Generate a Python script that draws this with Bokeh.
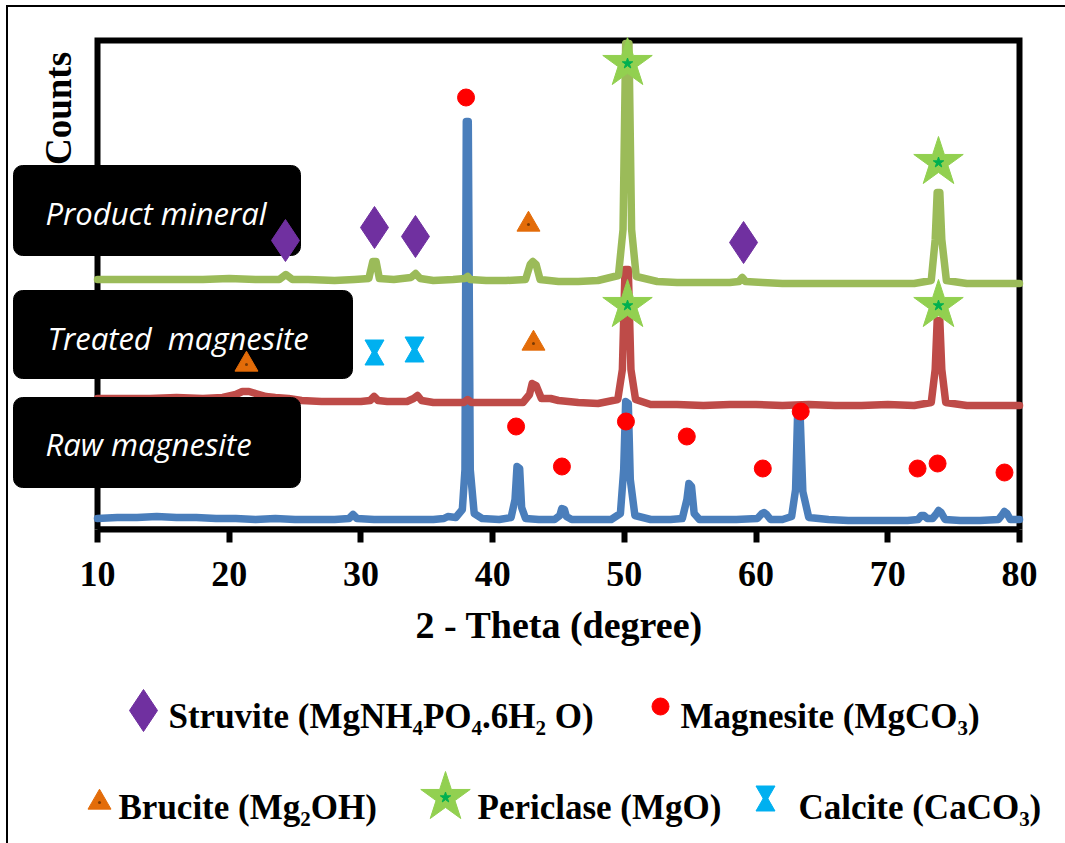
import math
from bokeh.plotting import figure
from bokeh.layouts import column
from bokeh.models import Range1d, Label, BoxAnnotation, ColumnDataSource, FixedTicker, Title
from bokeh.transform import dodge
from bokeh.embed import file_html
from bokeh.resources import INLINE

# ---------------- XRD patterns (2-theta in degrees, stacked counts in a.u.) ----------------
raw_theta = [10.0, 11.5, 13.0, 14.5, 16.0, 17.5, 19.0, 20.5, 22.0, 23.5, 25.0, 26.5, 28.0, 29.1,
             29.4, 29.7, 31.0, 32.5, 34.0, 35.5, 36.3, 36.6, 37.2, 37.7, 37.9, 38.0, 38.15, 38.3,
             38.6, 39.2, 40.5, 41.4, 41.7, 41.85, 42.05, 42.2, 42.5, 43.5, 44.7, 45.1, 45.25, 45.45,
             45.6, 46.0, 47.5, 49.0, 49.7, 49.95, 50.1, 50.3, 50.45, 50.8, 52.0, 53.5, 54.4, 54.75,
             54.9, 55.1, 55.3, 55.7, 57.0, 58.5, 60.1, 60.45, 60.6, 60.8, 61.1, 62.0, 62.7, 63.0,
             63.15, 63.35, 63.55, 64.0, 65.5, 67.0, 68.5, 70.0, 71.5, 72.3, 72.55, 72.75, 73.0,
             73.4, 73.65, 73.85, 74.05, 74.35, 75.5, 77.0, 78.4, 78.7, 78.85, 79.05, 79.3, 80.0]
raw_counts = [11, 12, 12, 13, 12, 12, 11, 11, 10, 11, 10, 10, 10, 11,
              15, 11, 10, 10, 10, 10, 11, 13, 12, 20, 60, 408, 408, 60,
              16, 11, 10, 12, 30, 63, 61, 22, 11, 10, 10, 14, 21, 20,
              13, 10, 10, 10, 16, 60, 128, 126, 50, 14, 10, 10, 11, 30,
              46, 43, 16, 10, 10, 10, 11, 16, 17, 15, 10, 10, 13, 40,
              114, 112, 38, 12, 10, 9, 9, 9, 9, 10, 14, 14, 11,
              11, 15, 19, 17, 10, 9, 9, 10, 15, 18, 16, 10, 10]

treated_theta = [10.0, 12.0, 14.0, 16.0, 18.0, 19.5, 20.5, 21.0, 21.5, 22.0, 22.8, 23.5, 24.5,
                 25.5, 27.0, 28.5, 30.0, 30.7, 31.0, 31.3, 32.0, 33.5, 34.0, 34.3, 34.6, 35.5,
                 36.5, 37.8, 38.1, 38.4, 39.5, 41.0, 42.3, 42.8, 43.0, 43.3, 43.7, 44.4, 45.0,
                 46.5, 48.0, 49.5, 49.85, 50.05, 50.3, 50.5, 50.85, 52.0, 54.0, 56.0, 58.0, 60.0,
                 62.0, 64.0, 66.0, 68.0, 70.0, 72.0, 73.3, 73.6, 73.75, 73.95, 74.1, 74.4, 76.0,
                 78.0, 80.0]
treated_counts = [131, 131, 131, 132, 131, 132, 135, 138, 138, 136, 133, 132, 131,
                  129, 128, 128, 128, 129, 133, 129, 128, 128, 131, 134, 129, 127,
                  127, 127, 130, 127, 127, 127, 127, 135, 146, 144, 131, 131, 129,
                  127, 126, 130, 160, 260, 260, 160, 130, 125, 125, 124, 125, 125,
                  124, 125, 124, 124, 125, 124, 127, 160, 209, 209, 160, 127, 124,
                  124, 124]

product_theta = [10.0, 12.0, 14.0, 16.0, 18.0, 20.0, 22.0, 23.8, 24.3, 24.8, 26.0, 28.0, 29.5,
                 30.6, 30.9, 31.15, 31.4, 32.5, 33.8, 34.15, 34.5, 35.5, 37.0, 37.9, 38.1, 38.3,
                 39.5, 41.0, 42.5, 42.85, 43.05, 43.3, 43.6, 45.0, 46.5, 48.0, 49.55, 49.9, 50.1,
                 50.35, 50.55, 50.9, 52.5, 54.0, 56.0, 58.0, 58.7, 58.95, 59.2, 60.5, 62.0, 64.0,
                 66.0, 68.0, 70.0, 72.0, 73.3, 73.6, 73.75, 73.95, 74.1, 74.45, 76.0, 78.0, 80.0]
product_counts = [250, 250, 250, 250, 250, 251, 250, 250, 255, 250, 250, 249, 250,
                  251, 268, 268, 251, 250, 252, 256, 251, 249, 250, 251, 253, 250,
                  249, 249, 250, 265, 268, 265, 250, 248, 248, 249, 254, 300, 486,
                  486, 300, 253, 248, 247, 247, 247, 248, 252, 248, 247, 246, 246,
                  246, 246, 246, 246, 249, 290, 337, 337, 290, 249, 246, 246, 246]

x_ticks = [10, 20, 30, 40, 50, 60, 70, 80]
counts_max = 489

# ---------------- phase identification marks ----------------
struvite_theta = [24.27, 31.03, 34.14, 59.05]
struvite_counts = [289, 302, 293, 287]
magnesite_theta = [37.98, 41.78, 45.26, 50.12, 54.74, 60.51, 63.39, 72.26, 73.78, 78.86]
magnesite_counts = [432, 103, 63, 108, 93, 61, 118, 61, 66, 57]
brucite_theta = [21.31, 43.10, 42.72]
brucite_counts = [165, 186, 305]
periclase_theta = [50.24, 73.85, 50.24, 73.85]
periclase_counts = [466, 367, 224, 224]
calcite_theta = [31.03, 34.07]
calcite_counts = [177, 180]

sample_names = ["Product mineral", "Treated\u00a0 magnesite", "Raw magnesite"]
key_texts = ["Struvite (MgNH\u2084PO\u2084.6H\u2082 O)", "Magnesite (MgCO\u2083)",
             "Brucite (Mg\u2082OH)", "Periclase (MgO)", "Calcite (CaCO\u2083)"]

SERIF = "Liberation Serif"
SANS = "Open Sans"

C_RAW, C_TREATED, C_PRODUCT = "#4a7ebb", "#be4b48", "#9bbb59"
C_STRUVITE, C_MAGNESITE, C_BRUCITE = "#7030a0", "#ff0000", "#e36c09"
C_PERICLASE, C_PERICLASE_IN, C_CALCITE = "#92d050", "#00b050", "#00b0f0"

# ---------------- page geometry (pixels) ----------------
OX, OY = 8, 7                 # content origin inside the framed page
PAGE_W, PAGE_H = 1065, 843
AX_L, AX_R, AX_T, AX_B = 97, 1019, 40, 529   # axes box on the page
KEY_TOP = 682                 # page row where the key panel starts
W = PAGE_W - OX
k = (AX_R - AX_L) / (x_ticks[-1] - x_ticks[0])   # px per degree

# ---------------- main panel: patterns + x axis ----------------
p = figure(width=W, height=KEY_TOP - OY, title=None,
           x_range=Range1d(x_ticks[0] - (AX_L - OX) / k, x_ticks[-1] + (PAGE_W - AX_R) / k),
           y_range=Range1d(0, AX_B - OY),
           y_axis_location=None,
           output_backend="svg", toolbar_location=None,
           min_border_left=0, min_border_right=0, min_border_top=0,
           min_border_bottom=KEY_TOP - AX_B,
           background_fill_color="white", border_fill_color="white")
p.extra_x_ranges = {"px": Range1d(OX, PAGE_W)}
p.extra_y_ranges = {"py": Range1d(AX_B, OY)}
p.xgrid.visible = False
p.ygrid.visible = False
p.outline_line_color = None

ax = p.xaxis[0]
ax.ticker = FixedTicker(ticks=x_ticks)
ax.bounds = (x_ticks[0], x_ticks[-1])
ax.axis_line_width = 6
ax.axis_line_color = "black"
ax.major_tick_out = 13
ax.major_tick_in = 0
ax.major_tick_line_width = 6
ax.minor_tick_line_color = None
ax.major_label_text_font = SERIF
ax.major_label_text_font_style = "bold"
ax.major_label_text_font_size = "36px"
ax.major_label_text_color = "black"
ax.major_label_standoff = 19

# x-axis caption, left-aligned under the axes box
p.add_layout(Title(text="2 - Theta (degree)", align="left", offset=407, standoff=27,
                   text_font=SERIF, text_font_style="bold", text_font_size="38px",
                   text_color="black"), "below")

# axes box
p.quad(left=[x_ticks[0]], right=[x_ticks[-1]], bottom=[0], top=[counts_max],
       fill_color=None, line_color="black", line_width=6, line_join="miter")

# diffraction patterns
line_kw = dict(line_width=7.5, line_join="round", line_cap="round")
p.line(raw_theta, raw_counts, line_color=C_RAW, **line_kw)
p.line(treated_theta, treated_counts, line_color=C_TREATED, **line_kw)
p.line(product_theta, product_counts, line_color=C_PRODUCT, **line_kw)

# sample name boxes
box_kw = dict(x_range_name="px", y_range_name="py", fill_color="black", fill_alpha=1,
              line_color="black", line_alpha=1, border_radius=9)
p.add_layout(BoxAnnotation(left=13, right=300, top=165, bottom=255, **box_kw))
p.add_layout(BoxAnnotation(left=13, right=352, top=290, bottom=378, **box_kw))
p.add_layout(BoxAnnotation(left=13, right=300, top=397, bottom=487, **box_kw))

name_pos = [(45, 212), (47, 337), (45, 443)]
for name, (nx, ny) in zip(sample_names, name_pos):
    p.add_layout(Label(x=nx, y=ny, x_range_name="px", y_range_name="py", text=name,
                       text_color="white", text_font=SANS, text_font_style="italic",
                       text_font_size="31px", text_baseline="alphabetic", text_align="left"))

# y caption
p.add_layout(Label(x=58, y=108, x_range_name="px", y_range_name="py", text="Counts",
                   angle=math.pi / 2, text_align="center", text_baseline="middle",
                   text_font=SERIF, text_font_style="bold", text_font_size="37px",
                   text_color="black"))

# phase marks on the patterns
over = dict(level="overlay")
p.scatter(struvite_theta, struvite_counts, marker="diamond", size=42,
          fill_color=C_STRUVITE, line_color=C_STRUVITE, **over)
p.scatter(magnesite_theta, magnesite_counts, marker="circle", size=17,
          fill_color=C_MAGNESITE, line_color=C_MAGNESITE, **over)
p.scatter(brucite_theta, brucite_counts, marker="triangle", size=23,
          fill_color=C_BRUCITE, line_color=C_BRUCITE, **over)
p.scatter(brucite_theta, brucite_counts, marker="circle", size=3,
          fill_color="#7a3a05", line_color=None, **over)
p.scatter(periclase_theta, periclase_counts, marker="star", size=52,
          fill_color=C_PERICLASE, line_color=C_PERICLASE, **over)
p.scatter(periclase_theta, periclase_counts, marker="star", size=11,
          fill_color=C_PERICLASE_IN, line_color=C_PERICLASE_IN, **over)
calcite_src = ColumnDataSource(dict(x=calcite_theta, y=calcite_counts))
p.scatter(x="x", y=dodge("y", 7, range=p.y_range), source=calcite_src,
          marker="inverted_triangle", size=19, fill_color=C_CALCITE, line_color=C_CALCITE, **over)
p.scatter(x="x", y=dodge("y", -7, range=p.y_range), source=calcite_src,
          marker="triangle", size=19, fill_color=C_CALCITE, line_color=C_CALCITE, **over)

# ---------------- key panel ----------------
q = figure(width=W, height=PAGE_H - KEY_TOP, title=None,
           x_range=Range1d(OX, PAGE_W), y_range=Range1d(PAGE_H, KEY_TOP),
           x_axis_location=None, y_axis_location=None,
           output_backend="svg", toolbar_location=None, min_border=0,
           background_fill_color="white", border_fill_color="white")
q.xgrid.visible = False
q.ygrid.visible = False
q.outline_line_color = None

q.scatter([143], [710], marker="diamond", size=42, fill_color=C_STRUVITE, line_color=C_STRUVITE)
q.scatter([660], [706], marker="circle", size=17, fill_color=C_MAGNESITE, line_color=C_MAGNESITE)
q.scatter([99], [802], marker="triangle", size=23, fill_color=C_BRUCITE, line_color=C_BRUCITE)
q.scatter([99], [802], marker="circle", size=3, fill_color="#7a3a05", line_color=None)
q.scatter([445], [797], marker="star", size=52, fill_color=C_PERICLASE, line_color=C_PERICLASE)
q.scatter([445], [797], marker="star", size=11, fill_color=C_PERICLASE_IN, line_color=C_PERICLASE_IN)
q.scatter([765], [791], marker="inverted_triangle", size=19, fill_color=C_CALCITE, line_color=C_CALCITE)
q.scatter([765], [805], marker="triangle", size=19, fill_color=C_CALCITE, line_color=C_CALCITE)

key_pos = [(168, 716), (680, 716), (118, 807), (477, 807), (798, 807)]
for txt, (tx, ty) in zip(key_texts, key_pos):
    q.add_layout(Label(x=tx, y=ty, text=txt, text_font=SERIF, text_font_style="bold",
                       text_font_size="35px", text_color="black",
                       text_baseline="alphabetic", text_align="left"))

page = column(p, q, spacing=0, margin=(OY - 2, 0, 0, OX - 2),
              styles={"border-left": "2px solid black", "border-top": "2px solid black"})

open("out.html", "w").write(file_html(page, INLINE))
